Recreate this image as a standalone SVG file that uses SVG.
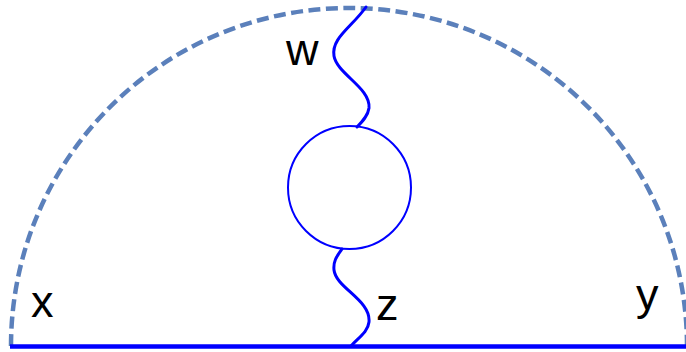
<svg xmlns="http://www.w3.org/2000/svg" width="686" height="352" viewBox="0 0 686 352">
<style>
.lbl{font-family:"Liberation Sans",Arial,sans-serif;font-size:45px;fill:#000}
.wave{fill:none;stroke:#0000ff;stroke-width:3;stroke-linecap:round}
</style>
<rect width="686" height="352" fill="#fff"/>
<g id="boundary">
<path d="M11,346 A338,338 0 0 1 687,346" fill="none" stroke="#5b80bb" stroke-width="4.5" stroke-dasharray="12,5.5"/>
</g>
<g id="connectors">
<line x1="10" y1="346.5" x2="686" y2="346.5" stroke="#0000ff" stroke-width="4.5"/>
<path class="wave" d="M366,7 C352,27 331,38 334,56 C337,74 371,88 369,108 C368,116 362,122 357,127"/>
<path class="wave" d="M342,249 C338,255 333,260 334,270 C336,288 371,300 369,322 C368,332 358,338 351,346"/>
</g>
<g id="loop">
<circle cx="349.5" cy="187.5" r="61.5" fill="none" stroke="#0000ff" stroke-width="2"/>
</g>
<g id="label-w"><text class="lbl" x="286" y="65">w</text></g>
<g id="label-x"><text class="lbl" x="31" y="317">x</text></g>
<g id="label-z"><text class="lbl" x="376" y="320">z</text></g>
<g id="label-y"><text class="lbl" x="636" y="310">y</text></g>
</svg>
